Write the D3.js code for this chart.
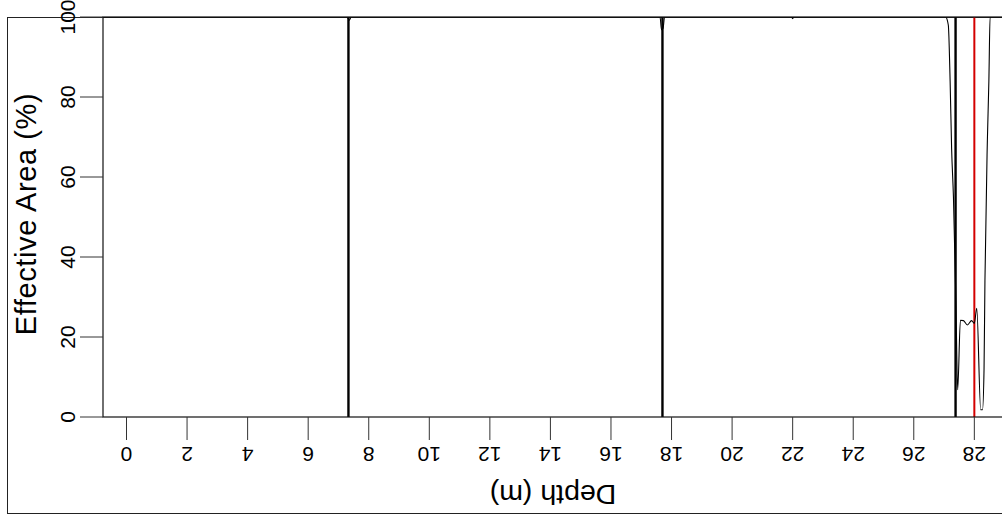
<!DOCTYPE html>
<html>
<head>
<meta charset="utf-8">
<script src="https://cdn.jsdelivr.net/npm/d3@7"></script>
<style>
  body { margin: 0; background: #fff; }
  svg { display: block; font-family: "Liberation Sans", Arial, sans-serif; }
</style>
</head>
<body>
<svg id="chart" width="1002" height="522"></svg>
<script>
// depth (m) / effective area (%)
const depth = [-0.8, 7.28, 7.36, 7.42, 17.62, 17.67, 17.72, 17.77, 21.96, 22.0, 22.04,
  27.05, 27.14, 27.2, 27.25, 27.31, 27.39, 27.45, 27.54, 27.64, 27.77, 27.91, 28.0,
  28.08, 28.21, 28.27, 28.32, 28.35, 28.43, 28.48, 28.52, 29.0];
const area = [100, 100, 99.2, 100, 100, 96.8, 97.2, 100, 100, 99.6, 100,
  100, 98, 84, 67, 55, 29, 6.8, 24.2, 24.1, 23, 24.1, 23.4,
  27.2, 1.8, 1.8, 11.8, 34, 69, 84, 100, 100];

// vertical marker lines
const markers = [7.33, 17.7, 27.38];
const refDepth = [28.0];

const xTicks = [0, 2, 4, 6, 8, 10, 12, 14, 16, 18, 20, 22, 24, 26, 28];
const yTicks = [0, 20, 40, 60, 80, 100];

const svg = d3.select('#chart');
const plot = { left: 103, top: 17, right: 1003, bottom: 417 };

const x = d3.scaleLinear()
  .domain([0, 28])
  .range([126.5, 126.5 + 28 * 30.28]);
const y = d3.scaleLinear()
  .domain([0, 100])
  .range([plot.bottom, plot.top]);

svg.append('defs').append('clipPath').attr('id', 'clip')
  .append('rect')
  .attr('x', plot.left).attr('y', plot.top)
  .attr('width', plot.right - plot.left)
  .attr('height', plot.bottom - plot.top);

// figure border
svg.append('rect')
  .attr('x', 7.5).attr('y', 17.5)
  .attr('width', 1010).attr('height', 496)
  .attr('fill', 'none')
  .attr('stroke', '#222');

const g = svg.append('g').attr('clip-path', 'url(#clip)');

// markers
g.selectAll('.marker')
  .data(markers)
  .join('line')
  .attr('x1', d => x(d)).attr('x2', d => x(d))
  .attr('y1', plot.top).attr('y2', plot.bottom)
  .attr('stroke', '#000')
  .attr('stroke-width', 2.4);

g.selectAll('.ref')
  .data(refDepth)
  .join('line')
  .attr('x1', d => x(d)).attr('x2', d => x(d))
  .attr('y1', plot.top).attr('y2', plot.bottom)
  .attr('stroke', '#d40000')
  .attr('stroke-width', 2);

// effective area trace
const line = d3.line()
  .x((d, i) => x(depth[i]))
  .y(d => y(d))
  .curve(d3.curveMonotoneX);

g.append('path')
  .attr('d', line(area))
  .attr('fill', 'none')
  .attr('stroke', '#000')
  .attr('stroke-width', 1.1);

// plot box
svg.append('rect')
  .attr('x', plot.left).attr('y', plot.top)
  .attr('width', plot.right - plot.left)
  .attr('height', plot.bottom - plot.top)
  .attr('fill', 'none')
  .attr('stroke', '#111')
  .attr('stroke-width', 1.2);

// x axis (labels upside down)
const xAxis = svg.append('g');
xAxis.selectAll('line')
  .data(xTicks)
  .join('line')
  .attr('x1', d => x(d)).attr('x2', d => x(d))
  .attr('y1', plot.bottom).attr('y2', plot.bottom + 23)
  .attr('stroke', '#333');
xAxis.selectAll('text')
  .data(xTicks)
  .join('text')
  .attr('transform', d => `translate(${x(d)},454) rotate(180)`)
  .attr('text-anchor', 'middle')
  .attr('dominant-baseline', 'central')
  .attr('font-size', 21)
  .text(d => d);

svg.append('text')
  .attr('transform', `translate(553,495) rotate(180)`)
  .attr('text-anchor', 'middle')
  .attr('dominant-baseline', 'central')
  .attr('font-size', 28.5)
  .text('Depth (m)');

// y axis
const yAxis = svg.append('g');
yAxis.selectAll('line')
  .data(yTicks)
  .join('line')
  .attr('x1', plot.left - 23).attr('x2', plot.left)
  .attr('y1', d => y(d)).attr('y2', d => y(d))
  .attr('stroke', '#333');
yAxis.selectAll('text')
  .data(yTicks)
  .join('text')
  .attr('transform', d => `translate(67.5,${y(d)}) rotate(-90)`)
  .attr('text-anchor', 'middle')
  .attr('dominant-baseline', 'central')
  .attr('font-size', 21)
  .text(d => d);

svg.append('text')
  .attr('transform', `translate(25.5,214) rotate(-90)`)
  .attr('text-anchor', 'middle')
  .attr('dominant-baseline', 'central')
  .attr('font-size', 29)
  .attr('letter-spacing', 0.6)
  .text('Effective Area (%)');
</script>
</body>
</html>
